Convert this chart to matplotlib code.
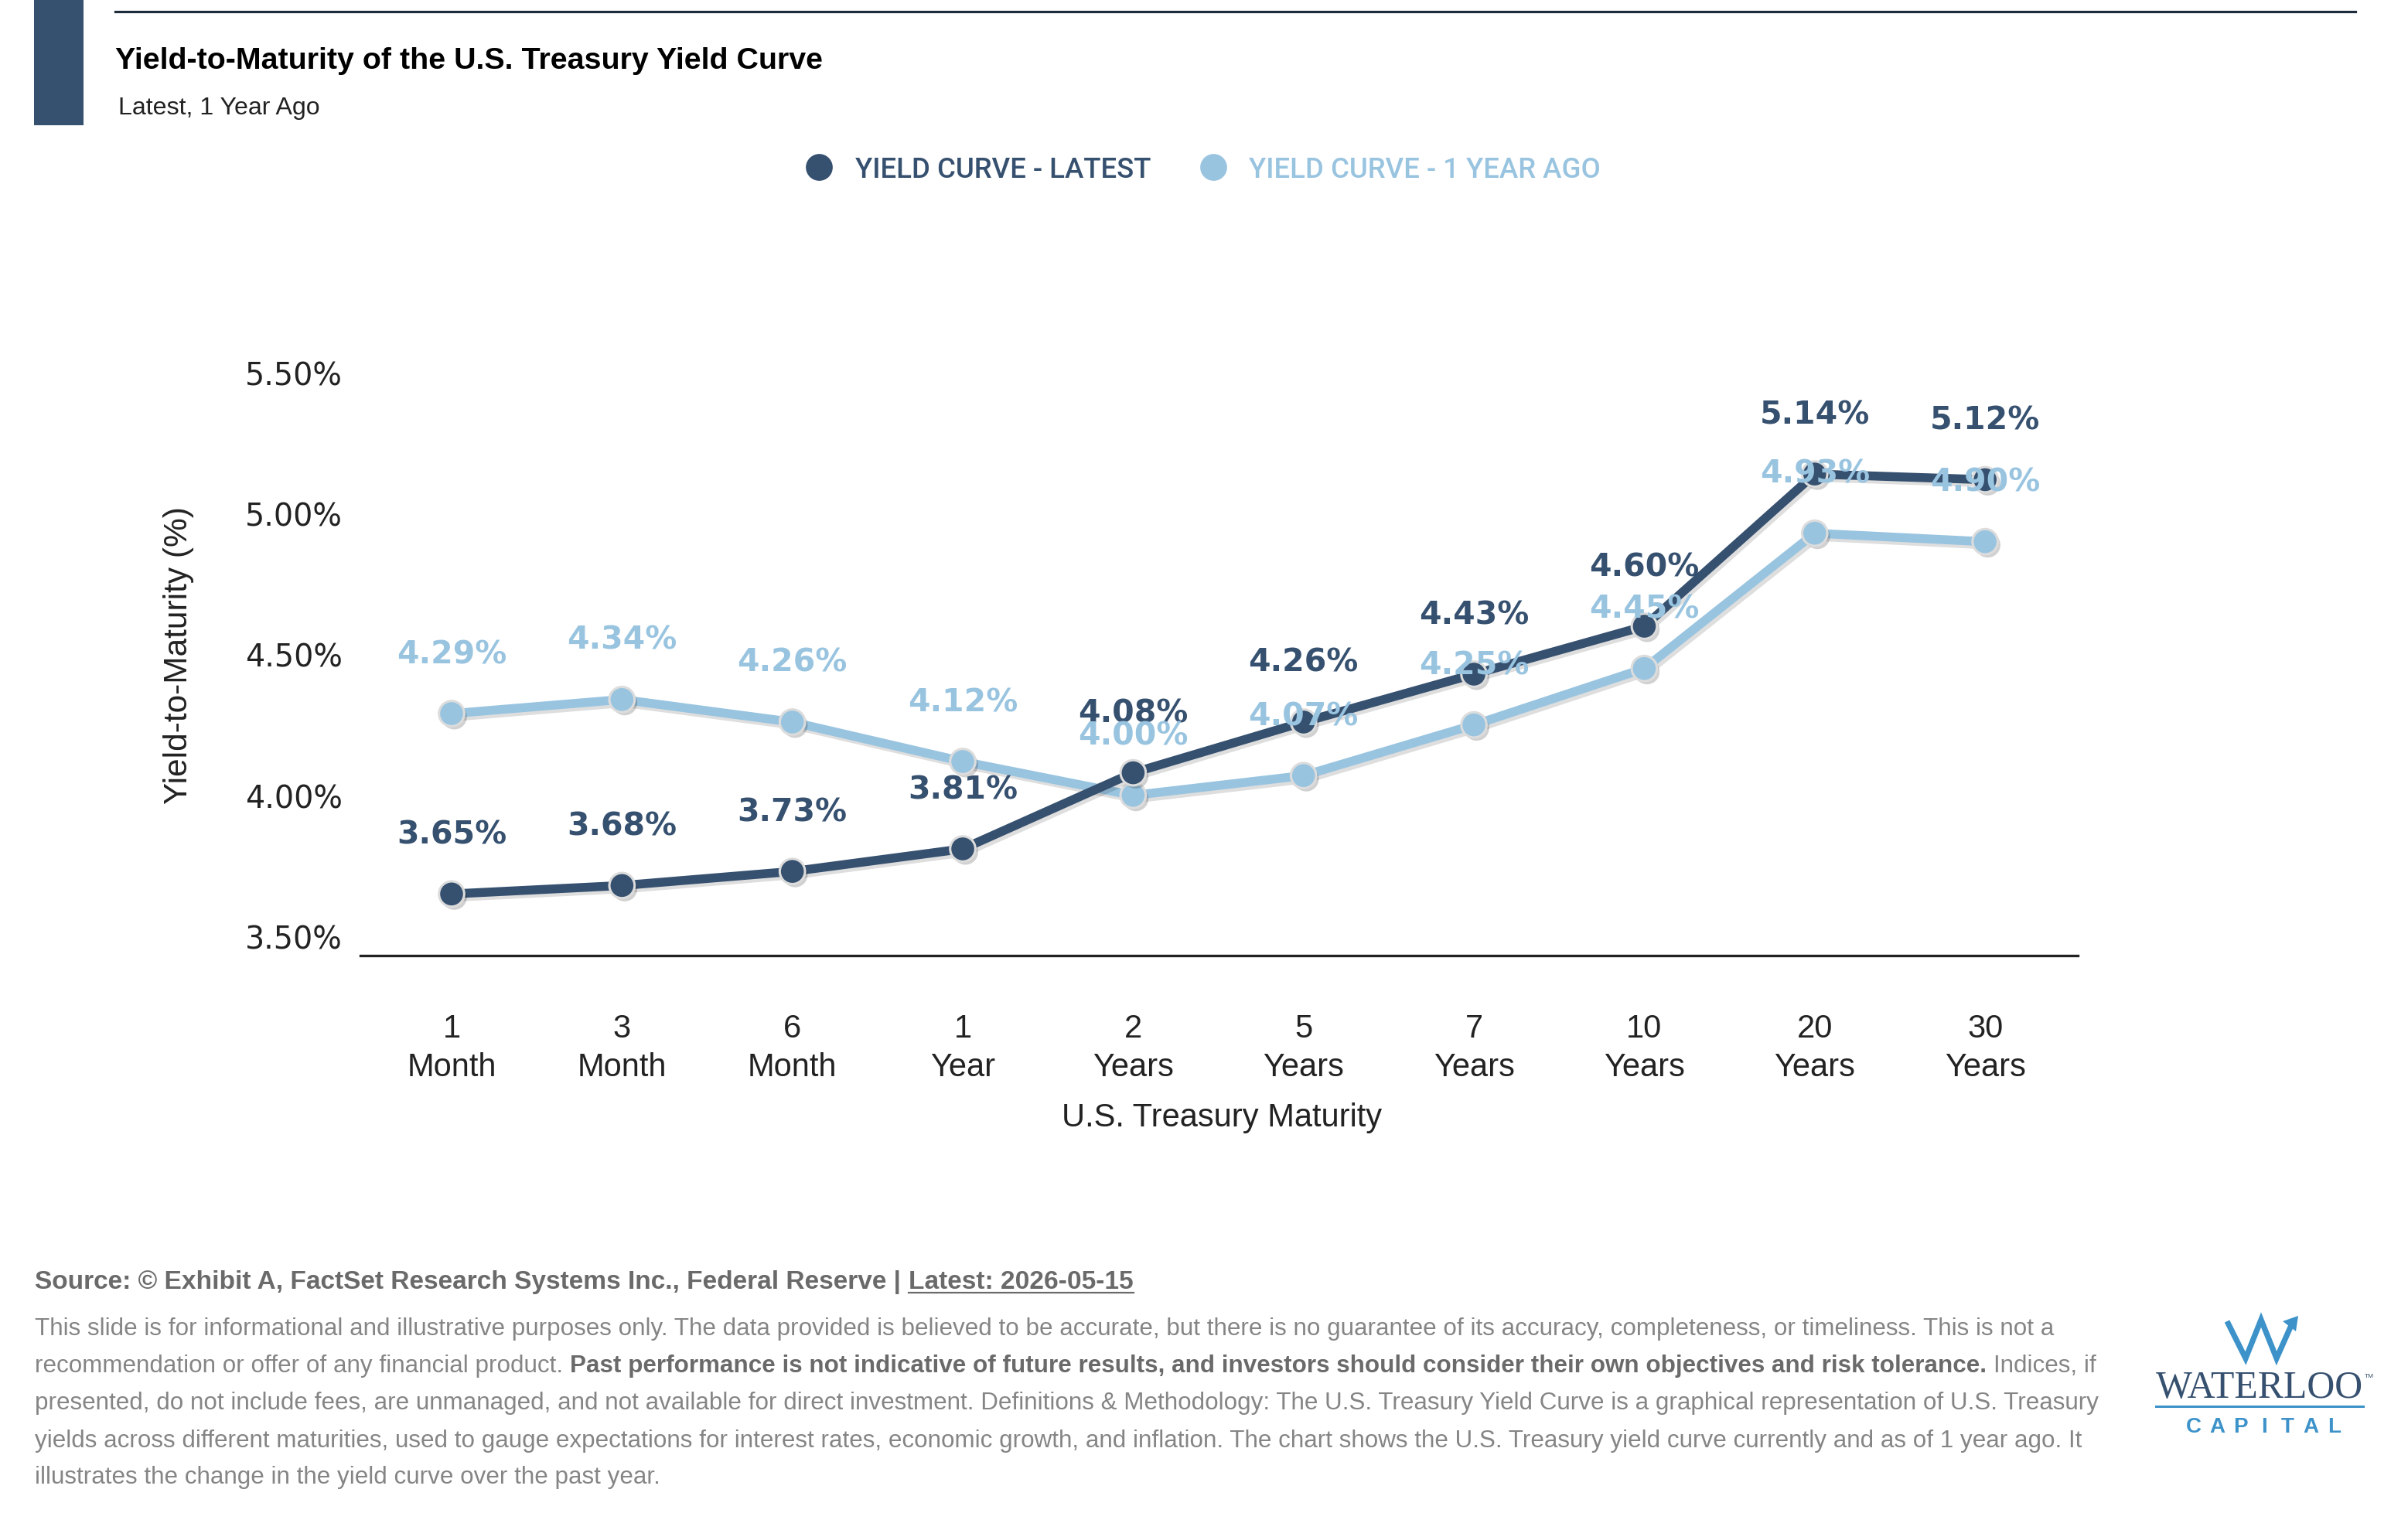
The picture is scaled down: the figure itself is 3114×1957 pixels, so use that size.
import matplotlib
matplotlib.use("Agg")
import matplotlib.pyplot as plt
import matplotlib.patheffects as pe
from matplotlib.lines import Line2D
from matplotlib.patches import Rectangle, Polygon

# ---------------- data ----------------
categories = ["1\nMonth", "3\nMonth", "6\nMonth", "1\nYear", "2\nYears",
              "5\nYears", "7\nYears", "10\nYears", "20\nYears", "30\nYears"]
latest = [3.65, 3.68, 3.73, 3.81, 4.08, 4.26, 4.43, 4.60, 5.14, 5.12]
year_ago = [4.29, 4.34, 4.26, 4.12, 4.00, 4.07, 4.25, 4.45, 4.93, 4.90]
y_ticks = [3.50, 4.00, 4.50, 5.00, 5.50]
series_names = ["YIELD CURVE - LATEST", "YIELD CURVE - 1 YEAR AGO"]

title = "Yield-to-Maturity of the U.S. Treasury Yield Curve"
subtitle = "Latest, 1 Year Ago"
x_title = "U.S. Treasury Maturity"
y_title = "Yield-to-Maturity (%)"
source_parts = ["Source: \u00a9 Exhibit A, FactSet Research Systems Inc., Federal Reserve |",
                "Latest: 2026-05-15"]
disclaimer = [
    [("This slide is for informational and illustrative purposes only. The data provided is believed to be accurate, but there is no guarantee of its accuracy, completeness, or timeliness. This is not a", "normal")],
    [("recommendation or offer of any financial product.", "normal"),
     ("Past performance is not indicative of future results, and investors should consider their own objectives and risk tolerance.", "bold"),
     ("Indices, if", "normal")],
    [("presented, do not include fees, are unmanaged, and not available for direct investment. Definitions & Methodology: The U.S. Treasury Yield Curve is a graphical representation of U.S. Treasury", "normal")],
    [("yields across different maturities, used to gauge expectations for interest rates, economic growth, and inflation. The chart shows the U.S. Treasury yield curve currently and as of 1 year ago. It", "normal")],
    [("illustrates the change in the yield curve over the past year.", "normal")],
]

# ---------------- style ----------------
W, H = 3114, 1958
DARK = "#36506f"
LIGHT = "#99c4e0"
EDGE = "#dcdcdc"
TXT = "#222222"
LOGO_BLUE = "#3c92c9"
SANS = ["Liberation Sans", "DejaVu Sans"]
LEG_FONT = ["Roboto", "Liberation Sans", "DejaVu Sans"]

fig = plt.figure(figsize=(W / 100, H / 100), dpi=100)
fig.patch.set_facecolor("white")
R = fig.canvas.get_renderer()


def fx(px):
    return px / W


def fy(py):
    return 1 - py / H


def width_of(text, **kw):
    t = fig.text(0, 0, text, **kw)
    w = t.get_window_extent(R).width
    t.remove()
    return w


def fit(text, target, **kw):
    base = 20.0
    return base * target / width_of(text, fontsize=base, **kw)


# ---------------- axes ----------------
ax = fig.add_axes([fx(466), fy(1237), (2687 - 466) / W, (1237 - 450.5) / H])
xs = list(range(len(categories)))
ax.set_xlim(-0.5355, 9.544)
ax.set_ylim(3.4314, 5.589)

line_fx = [pe.SimpleLineShadow(offset=(2.5, -3), shadow_color="black", alpha=0.13), pe.Normal()]
mark_fx = [pe.SimplePatchShadow(offset=(2.5, -3), shadow_rgbFace="black", alpha=0.18), pe.Normal()]

for vals, col, z in [(year_ago, LIGHT, 2), (latest, DARK, 3)]:
    ax.plot(xs, vals, color=col, lw=8.3, solid_joinstyle="round", solid_capstyle="round",
            zorder=z, path_effects=line_fx)
    ax.plot(xs, vals, ls="none", marker="o", ms=23.5, mfc=col, mec=EDGE, mew=2.2,
            zorder=z + 0.5, path_effects=mark_fx)

for vals, col in [(latest, DARK), (year_ago, LIGHT)]:
    for xi, v in zip(xs, vals):
        ax.annotate(f"{v:.2f}%", (xi, v), xytext=(0, 47.5), textcoords="offset points",
                    ha="center", va="baseline", fontsize=29.5, fontweight="bold",
                    family=["DejaVu Sans"], color=col, zorder=6)

for s in ["top", "right", "left"]:
    ax.spines[s].set_visible(False)
ax.spines["bottom"].set_color(TXT)
ax.spines["bottom"].set_linewidth(2.4)
ax.set_xticks(xs)
ax.set_xticklabels(categories, fontsize=30, family=SANS, color=TXT, linespacing=1.35)
ax.set_yticks(y_ticks)
ax.set_yticklabels([f"{t:.2f}%" for t in y_ticks], fontsize=28.5, family=["DejaVu Sans"], color=TXT)
ax.tick_params(length=0)
ax.tick_params(axis="x", pad=53)
ax.tick_params(axis="y", pad=16.5)
ax.patch.set_alpha(0)

fig.text(fx(1580), fy(1457), x_title, ha="center", va="baseline", fontsize=30,
         family=SANS, color=TXT)
fig.text(fx(231), fy(848), y_title, ha="center", va="center", rotation=90,
         fontsize=30.5, family=SANS, color=TXT)

# ---------------- header ----------------
fig.add_artist(Rectangle((fx(44), fy(163)), (108 - 44) / W, 163 / H,
                         transform=fig.transFigure, facecolor=DARK, edgecolor="none"))
fig.add_artist(Line2D([fx(149), fx(3046)], [fy(15.5), fy(15.5)], transform=fig.transFigure,
                      color="#1e2b3a", lw=2.3))
fs_title = fit(title, 914, fontweight="bold", family=SANS)
fig.text(fx(149), fy(89), title, fontsize=fs_title, fontweight="bold", family=SANS,
         color="black", va="baseline", ha="left")
fs_sub = fit(subtitle, 260, family=SANS)
fig.text(fx(153), fy(148), subtitle, fontsize=fs_sub, family=SANS, color=TXT,
         va="baseline", ha="left")

# ---------------- legend ----------------
fs_leg = fit(series_names[0], 383, family=LEG_FONT, fontweight="medium")
for name, col, mx, tx in [(series_names[0], DARK, 1059, 1106), (series_names[1], LIGHT, 1569, 1615)]:
    fig.add_artist(Line2D([fx(mx)], [fy(217)], transform=fig.transFigure, ls="none",
                          marker="o", ms=25, mfc=col, mec="none"))
    fig.text(fx(tx), fy(230), name, fontsize=fs_leg, family=LEG_FONT, fontweight="medium",
             color=col, va="baseline", ha="left")

# ---------------- footer ----------------
src_col = "#6a6a6a"
sp_b = width_of("a a", fontsize=20, fontweight="bold", family=SANS) - width_of("aa", fontsize=20, fontweight="bold", family=SANS)
w0 = width_of(source_parts[0], fontsize=20, fontweight="bold", family=SANS)
w1 = width_of(source_parts[1], fontsize=20, fontweight="bold", family=SANS)
fs_src = 20 * 1421 / (w0 + sp_b + w1)
fig.text(fx(45), fy(1667), source_parts[0], fontsize=fs_src, fontweight="bold",
         family=SANS, color=src_col, va="baseline", ha="left")
x_next = 45 + w0 * fs_src / 20 + sp_b * fs_src / 20
fig.text(fx(x_next), fy(1667), source_parts[1], fontsize=fs_src, fontweight="bold",
         family=SANS, color=src_col, va="baseline", ha="left")
fig.add_artist(Line2D([fx(x_next), fx(x_next + w1 * fs_src / 20)], [fy(1673), fy(1673)],
                      transform=fig.transFigure, color=src_col, lw=1.6))

dis_col = "#858585"
dis_bold = "#6a6a6a"
fs_dis = fit(disclaimer[0][0][0], 2606, family=SANS)
baselines = [1727, 1775, 1823, 1872, 1919]
for parts, yb in zip(disclaimer, baselines):
    xcur = 45
    for txt, wt in parts:
        kw = dict(fontsize=fs_dis, fontweight=wt, family=SANS)
        fig.text(fx(xcur), fy(yb), txt, color=(dis_bold if wt == "bold" else dis_col),
                 va="baseline", ha="left", **kw)
        xcur += width_of(txt, **kw) + (width_of("a a", **kw) - width_of("aa", **kw))

# ---------------- logo ----------------
w_pts = [(2880, 1710), (2904, 1758), (2924, 1708), (2944, 1758), (2964, 1713)]
fig.add_artist(Line2D([fx(p[0]) for p in w_pts], [fy(p[1]) for p in w_pts],
                      transform=fig.transFigure, color=LOGO_BLUE, lw=5.2,
                      solid_joinstyle="miter", solid_capstyle="butt"))
head = [(2972, 1703), (2952, 1710), (2969, 1723)]
fig.add_artist(Polygon([(fx(p[0]), fy(p[1])) for p in head], closed=True,
                       transform=fig.transFigure, facecolor=LOGO_BLUE, edgecolor="none"))
fs_w = fit("WATERLOO", 268, family=["Liberation Serif", "DejaVu Serif"])
fig.text(fx(2788), fy(1808), "WATERLOO", fontsize=fs_w, family=["Liberation Serif", "DejaVu Serif"],
         color=DARK, va="baseline", ha="left")
fig.text(fx(3058), fy(1782), "TM", fontsize=6, family=SANS, color=DARK, va="baseline", ha="left")
fig.add_artist(Line2D([fx(2788), fx(3056)], [fy(1820), fy(1820)], transform=fig.transFigure,
                      color=LOGO_BLUE, lw=2.2))
for i, ch in enumerate("CAPITAL"):
    fig.text(fx(2837 + i * 30.2), fy(1853), ch, fontsize=20, fontweight="bold", family=SANS,
             color=LOGO_BLUE, va="baseline", ha="center")

fig.savefig("out.png", dpi=100, facecolor="white")
